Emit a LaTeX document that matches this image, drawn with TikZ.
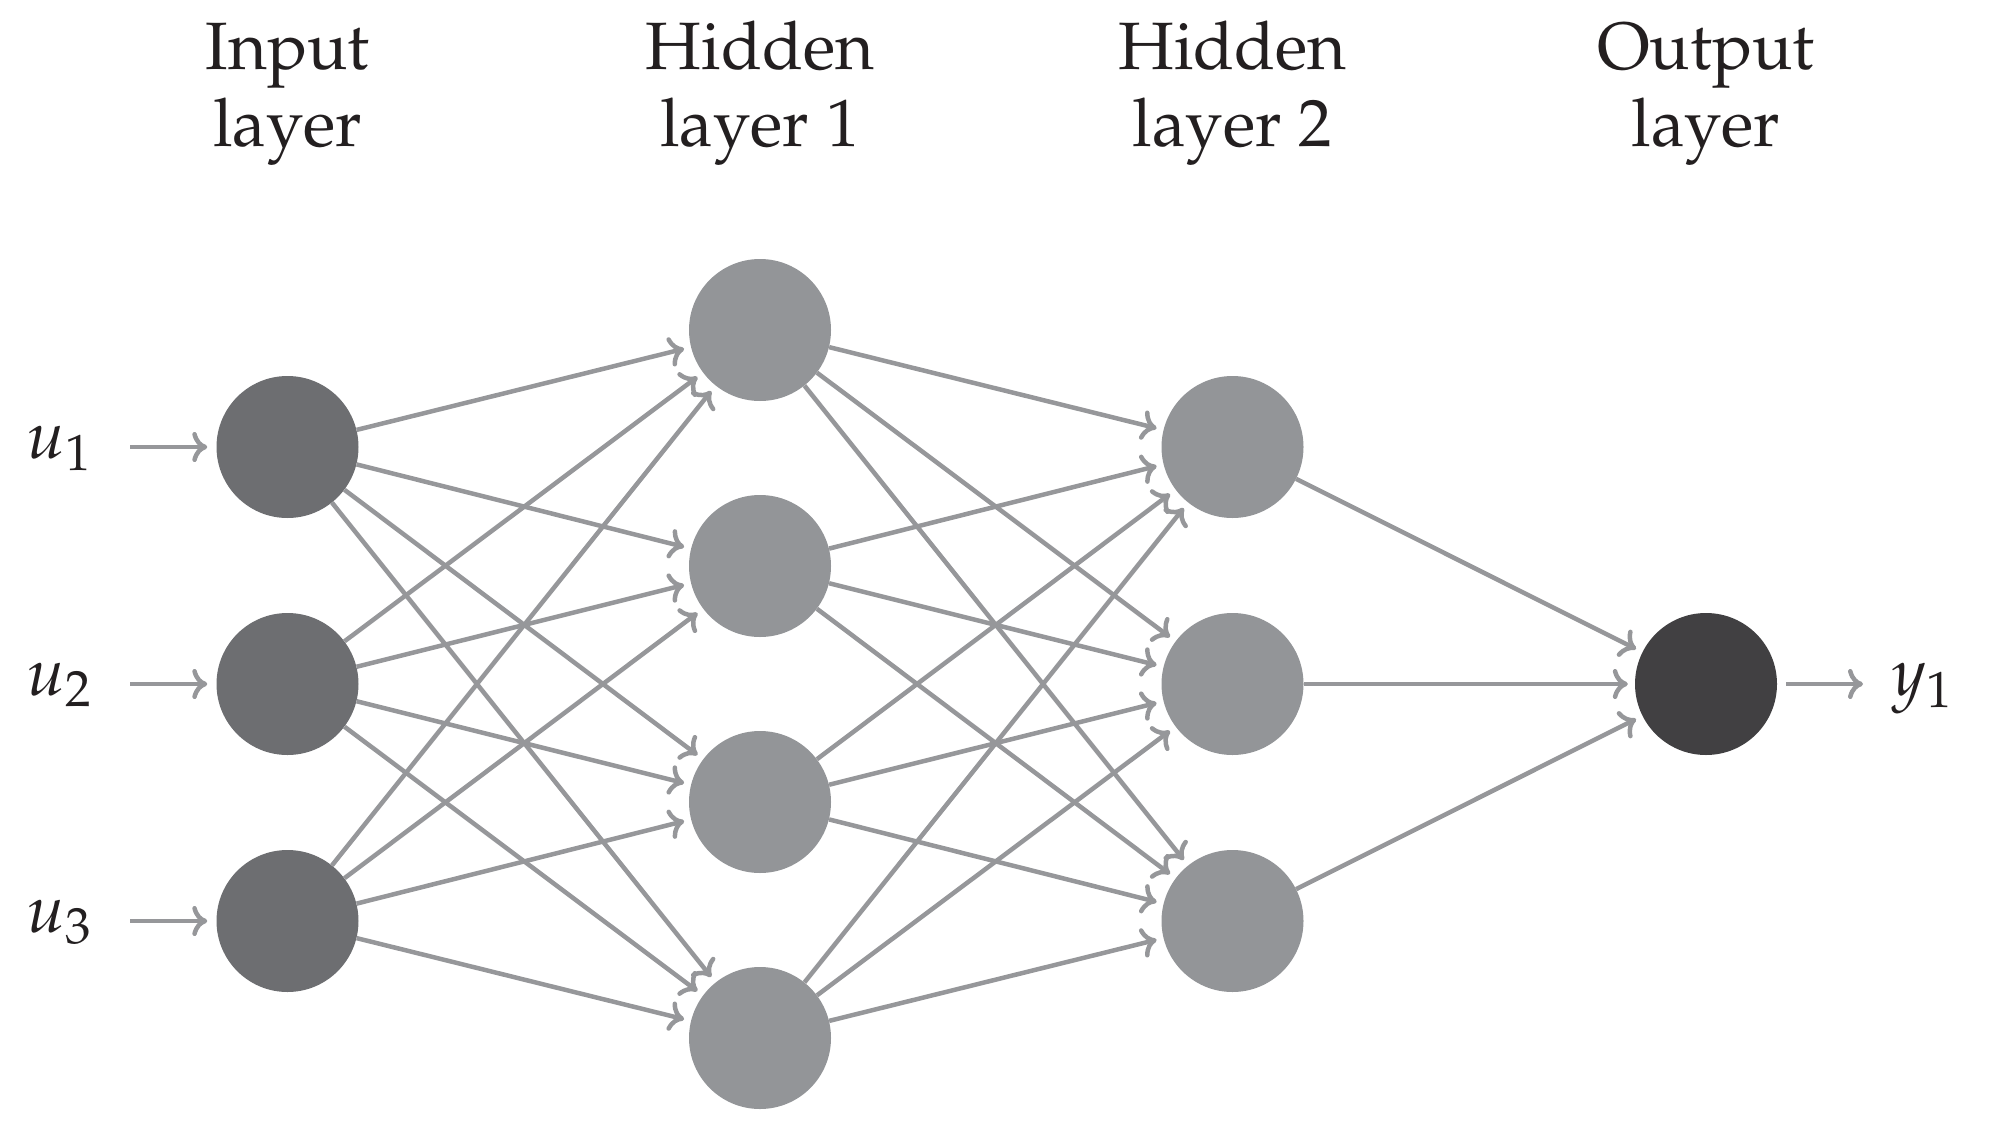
\documentclass[tikz,border=0pt]{standalone}
\usepackage[T1]{fontenc}
\usepackage{mathpazo}
\usetikzlibrary{arrows.meta}
\definecolor{inputc}{HTML}{6D6E71}
\definecolor{hiddenc}{HTML}{939598}
\definecolor{outputc}{HTML}{414042}
\definecolor{linec}{HTML}{96979A}
\definecolor{textc}{HTML}{231F20}
\begin{document}
\begin{tikzpicture}[x=1pt,y=1pt,
  neuron/.style={circle, minimum size=142pt, inner sep=0pt, draw=none},
  innode/.style={neuron, fill=inputc},
  hidnode/.style={neuron, fill=hiddenc},
  outnode/.style={neuron, fill=outputc},
  conn/.style={draw=linec, line width=4.5pt, -{To[length=15pt,width=30pt]}, shorten >=7pt},
  lbl/.style={font=\fontsize{67}{77}\selectfont, text=textc, inner sep=0pt}]
\useasboundingbox (0,0) rectangle (2008,-1135);

% titles
\node[lbl, anchor=base] (t1a) at (287.5,-69) {Input};
\node[lbl, anchor=base] (t1b) at (287.5,-146) {layer};
\node[lbl, anchor=base] (t2a) at (760,-69) {Hidden};
\node[lbl, anchor=base] (t2b) at (760,-146) {layer 1};
\node[lbl, anchor=base] (t3a) at (1232.5,-69) {Hidden};
\node[lbl, anchor=base] (t3b) at (1232.5,-146) {layer 2};
\node[lbl, anchor=base] (t4a) at (1706,-69) {Output};
\node[lbl, anchor=base] (t4b) at (1706,-146) {layer};

% input layer
\foreach \i/\y in {1/-447, 2/-684, 3/-921} {
  \node[innode] (I\i) at (287.5,\y) {};
  \node[lbl, anchor=base east] (u\i) at (92,\y-11) {$u_{\i}$};
  \coordinate (s\i) at (130,\y);
  \draw[conn, shorten >=9pt] (s\i) -- (I\i);
}
% hidden layer 1
\foreach \j/\y in {1/-330, 2/-566, 3/-802, 4/-1038} {
  \node[hidnode] (H\j) at (760,\y) {};
}
% hidden layer 2
\foreach \k/\y in {1/-447, 2/-684, 3/-921} {
  \node[hidnode] (G\k) at (1232.5,\y) {};
}
% output
\node[outnode] (O) at (1706,-684) {};
\node[lbl, anchor=base west] (yl) at (1891,-695) {$y_1$};
\draw[conn, shorten >=0pt] (O.east) ++(9,0) coordinate (os) -- (1863,-684) coordinate (oe);

% connections
\foreach \i in {1,2,3} {
  \foreach \j in {1,2,3,4} {
    \draw[conn] (I\i) -- (H\j);
  }
}
\foreach \j in {1,2,3,4} {
  \foreach \k in {1,2,3} {
    \draw[conn] (H\j) -- (G\k);
  }
}
\foreach \k in {1,2,3} {
  \draw[conn] (G\k) -- (O);
}
\end{tikzpicture}
\end{document}
